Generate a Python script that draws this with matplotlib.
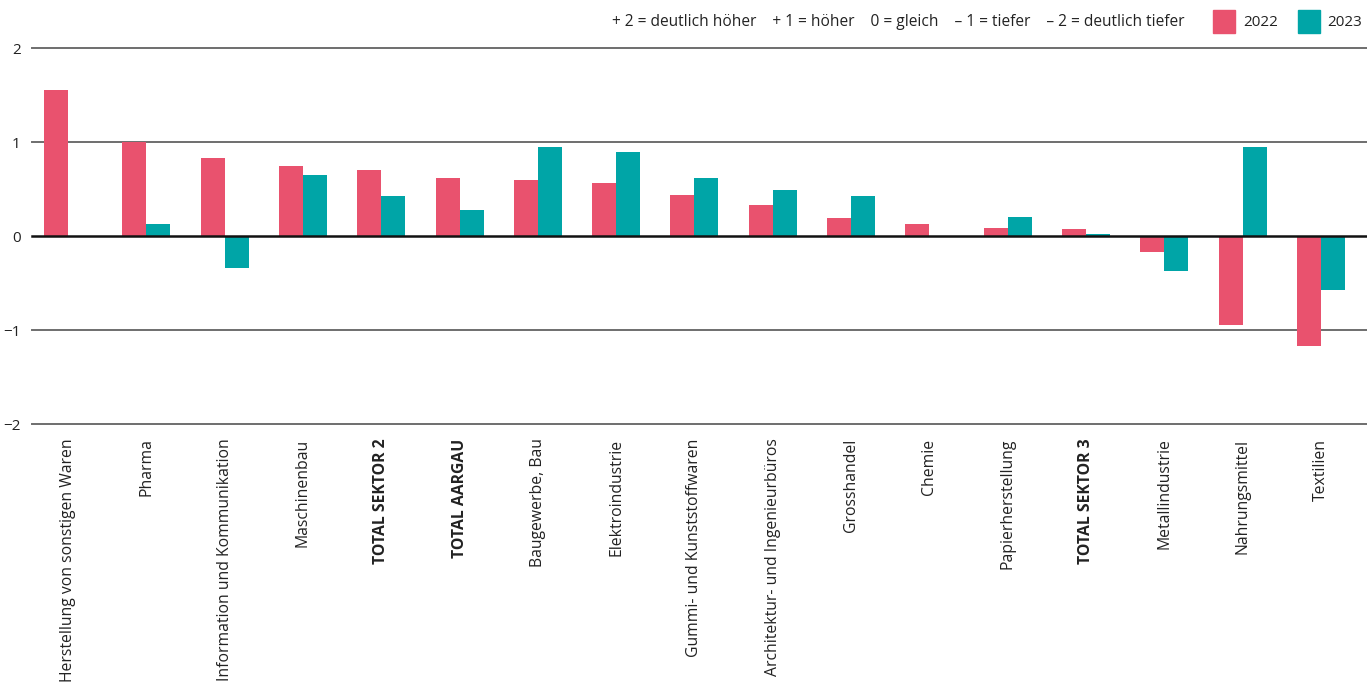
import matplotlib
matplotlib.use("Agg")
import matplotlib.pyplot as plt
from matplotlib.patches import Rectangle
import numpy as np

plt.rcParams["font.family"] = ["Open Sans", "DejaVu Sans"]

categories = [
    "Herstellung von sonstigen Waren", "Pharma", "Information und Kommunikation",
    "Maschinenbau", "TOTAL SEKTOR 2", "TOTAL AARGAU", "Baugewerbe, Bau",
    "Elektroindustrie", "Gummi- und Kunststoffwaren", "Architektur- und Ingenieurbüros",
    "Grosshandel", "Chemie", "Papierherstellung", "TOTAL SEKTOR 3",
    "Metallindustrie", "Nahrungsmittel", "Textilien",
]
values_2022 = [1.55, 1.00, 0.83, 0.74, 0.70, 0.62, 0.60, 0.56, 0.44, 0.33,
               0.19, 0.13, 0.09, 0.07, -0.17, -0.95, -1.17]
values_2023 = [0.00, 0.13, -0.34, 0.65, 0.43, 0.28, 0.95, 0.89, 0.62, 0.49,
               0.43, 0.00, 0.20, 0.02, -0.37, 0.95, -0.57]
bold_categories = {"TOTAL SEKTOR 2", "TOTAL AARGAU", "TOTAL SEKTOR 3"}
y_ticks = [2, 1, 0, -1, -2]
y_tick_labels = ["2", "1", "0", "\u22121", "\u22122"]
scale_note = ("+ 2 = deutlich höher    + 1 = höher    0 = gleich    "
              "\u2013 1 = tiefer    \u2013 2 = deutlich tiefer")
series_labels = ["2022", "2023"]

PINK = "#E9526E"
TEAL = "#00A5A7"

W, H = 1367, 684
fig = plt.figure(figsize=(W / 100, H / 100), dpi=100)
ax = fig.add_axes([32 / W, 1 - 424 / H, 1 - 32 / W, (424 - 48) / H])

x = np.arange(len(categories))
bw = 0.3065
ax.bar(x - bw, values_2022, width=bw, align="edge", color=PINK, zorder=2)
ax.bar(x, values_2023, width=bw, align="edge", color=TEAL, zorder=2)

ax.set_xlim(-0.46, len(categories) - 1 + 0.59)
ax.set_ylim(-2, 2)

for yv in y_ticks:
    if yv == 0:
        ax.axhline(yv, color="#111111", lw=1.8, zorder=3, clip_on=False)
    else:
        ax.axhline(yv, color="#6e6e6e", lw=1.4, zorder=1, clip_on=False)

for s in ax.spines.values():
    s.set_visible(False)

ax.set_yticks(y_ticks)
ax.set_yticklabels(y_tick_labels, fontsize=11, color="#222222")
ax.tick_params(axis="y", length=0, pad=8)

ax.set_xticks(x)
ax.set_xticklabels(categories, rotation=90, va="top", ha="center",
                   fontsize=11.3, color="#222222")
ax.tick_params(axis="x", length=0, pad=10.5)
for lab in ax.get_xticklabels():
    if lab.get_text() in bold_categories:
        lab.set_fontweight("bold")

# Scale explanation and year legend
fig.text(1185 / W, 1 - 22 / H, scale_note, ha="right", va="center",
         fontsize=11.2, color="#222222")
for sx, col, lab, tx in [(1213, PINK, series_labels[0], 1243),
                         (1298, TEAL, series_labels[1], 1327)]:
    fig.patches.append(Rectangle((sx / W, 1 - 33 / H), 22 / W, 23 / H,
                                 transform=fig.transFigure, color=col))
    fig.text(tx / W, 1 - 22 / H, lab, ha="left", va="center",
             fontsize=11, color="#222222")

fig.savefig("out.png", dpi=100)
